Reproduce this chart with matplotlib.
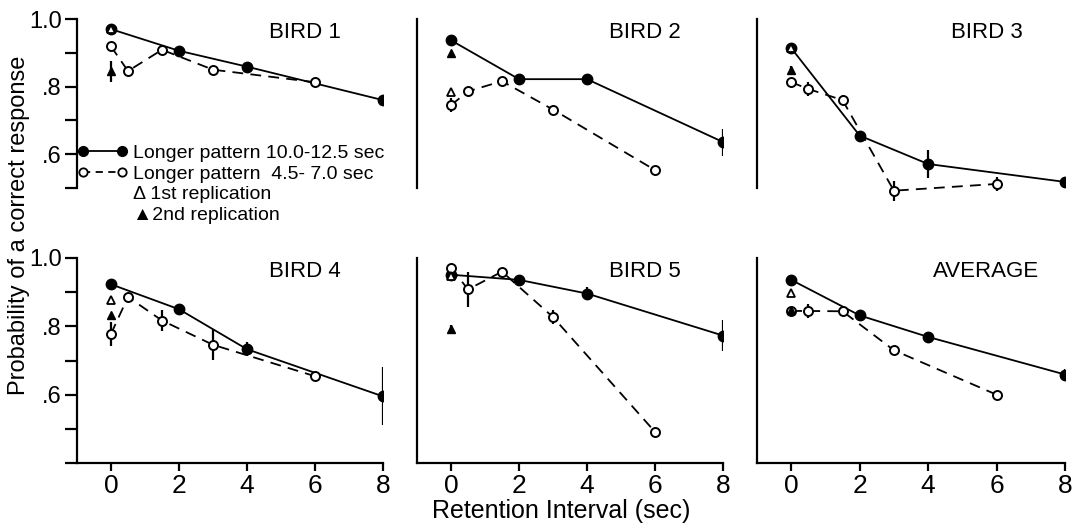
import matplotlib
matplotlib.use("Agg")
import matplotlib.pyplot as plt
from matplotlib.lines import Line2D

# ---------------- data ----------------
x_filled = [0, 2, 4, 8]
x_open = [0, 0.5, 1.5, 3, 6]
x_tri = 0

panel_titles = ["BIRD 1", "BIRD 2", "BIRD 3", "BIRD 4", "BIRD 5", "AVERAGE"]

filled_vals = [
    [0.970, 0.906, 0.859, 0.760],
    [0.937, 0.822, 0.822, 0.636],
    [0.914, 0.655, 0.571, 0.518],
    [0.923, 0.850, 0.733, 0.595],
    [0.951, 0.936, 0.896, 0.773],
    [0.936, 0.832, 0.769, 0.659],
]
filled_err = [
    [0.0, 0.008, 0.015, 0.012],
    [0.0, 0.015, 0.015, 0.040],
    [0.0, 0.008, 0.040, 0.010],
    [0.0, 0.015, 0.020, 0.085],
    [0.0, 0.0, 0.020, 0.045],
    [0.0, 0.0, 0.0, 0.015],
]
open_vals = [
    [0.919, 0.846, 0.909, 0.850, 0.813],
    [0.745, 0.786, 0.816, 0.732, 0.553],
    [0.813, 0.793, 0.760, 0.492, 0.512],
    [0.778, 0.886, 0.817, 0.746, 0.654],
    [0.972, 0.908, 0.960, 0.827, 0.491],
    [0.845, 0.845, 0.844, 0.730, 0.600],
]
open_err = [
    [0.0, 0.0, 0.0, 0.010, 0.0],
    [0.020, 0.010, 0.010, 0.0, 0.010],
    [0.010, 0.020, 0.015, 0.030, 0.020],
    [0.035, 0.0, 0.030, 0.045, 0.0],
    [0.0, 0.050, 0.0, 0.020, 0.010],
    [0.0, 0.020, 0.0, 0.0, 0.0],
]
rep1_vals = [0.970, 0.783, 0.914, 0.878, 0.948, 0.898]   # open triangle
rep2_vals = [0.845, 0.899, 0.850, 0.832, 0.793, 0.847]   # filled triangle
rep2_err = [0.030, 0.0, 0.010, 0.0, 0.010, 0.0]

x_ticks = [0, 2, 4, 6, 8]
x_ticklabels = ["0", "2", "4", "6", "8"]
y_ticks = [0.4, 0.5, 0.6, 0.7, 0.8, 0.9, 1.0]
y_ticklabel_map = {0.6: ".6", 0.8: ".8", 1.0: "1.0"}

legend_labels = ["Longer pattern 10.0-12.5 sec", "Longer pattern  4.5- 7.0 sec",
                 "\u0394 1st replication", "\u25B22nd replication"]

# ---------------- fonts ----------------
plt.rcParams["font.family"] = ["Liberation Sans", "DejaVu Sans"]

# ---------------- figure ----------------
W, H = 1086, 524
fig = plt.figure(figsize=(W / 100, H / 100), dpi=100)

def px_axes(left, top, right, bottom):
    return fig.add_axes([left / W, 1 - bottom / H, (right - left) / W, (bottom - top) / H])

col_left = [77, 417, 757]
col_right = [383, 723, 1065]
# top row: 1.0 at y=19, 0.5 at y=188  -> ylim 0.45..1.0
# bottom row: 1.0 at y=258, 0.4 at y=463
rows = [(19, 19 + (1.0 - 0.45) * 338, 0.45, 0.5), (258, 463, 0.40, 0.4)]

lw = 1.3
axes = []
for i in range(6):
    r, c = divmod(i, 3)
    top, bot, ymin, spine_lo = rows[r]
    ax = px_axes(col_left[c], top, col_right[c], bot)
    ax.set_xlim(-1, 8)
    ax.set_ylim(ymin, 1.0)
    for s in ["top", "right"]:
        ax.spines[s].set_visible(False)
    ax.spines["left"].set_linewidth(1.6)
    ax.spines["left"].set_bounds(spine_lo, 1.0)
    if r == 0:
        ax.spines["bottom"].set_visible(False)
        ax.set_xticks([])
    else:
        ax.spines["bottom"].set_linewidth(1.6)
        ax.set_xticks(x_ticks)
        ax.set_xticklabels(x_ticklabels, fontsize=19)
        ax.tick_params(axis="x", direction="out", length=6, width=1.6, pad=2)
    if c == 0:
        yt = [v for v in y_ticks if v >= spine_lo]
        ax.set_yticks(yt)
        ax.set_yticklabels([y_ticklabel_map.get(round(v, 1), "") for v in yt], fontsize=17)
        ax.tick_params(axis="y", direction="out", length=9, width=1.6, pad=2)
    else:
        ax.set_yticks([])
    ax.patch.set_alpha(0)

    # filled series (solid)
    ax.errorbar(x_filled, filled_vals[i], yerr=filled_err[i], fmt="-o", color="black",
                lw=lw, elinewidth=1.6, capsize=0, ms=7.5, mfc="black", mec="black", zorder=3)
    # open series (dashed)
    ax.errorbar(x_open, open_vals[i], yerr=open_err[i], fmt="--o", color="black",
                lw=lw, elinewidth=1.6, capsize=0, ms=6.5, mfc="white", mec="black",
                mew=1.4, dashes=(6, 4), zorder=4)
    # replications
    ax.plot([x_tri], [rep1_vals[i]], marker="^", ms=6, mfc="white", mec="black", mew=1.3,
            ls="none", zorder=5)
    ax.errorbar([x_tri], [rep2_vals[i]], yerr=[rep2_err[i]], fmt="^", ms=6, color="black",
                elinewidth=1.6, capsize=0, zorder=5)

    ax.text(0.745, 0.985, panel_titles[i], transform=ax.transAxes,
            ha="center", va="top", fontsize=16)
    axes.append(ax)

# legend in first panel
handles = [
    Line2D([], [], color="black", lw=lw, marker="o", ms=7, mfc="black"),
    Line2D([], [], color="black", lw=lw, ls=(0, (4, 3)), marker="o", ms=6, mfc="white", mew=1.3),
    Line2D([], [], color="none"),
    Line2D([], [], color="none"),
]
leg = axes[0].legend(handles, legend_labels, loc="upper left", bbox_to_anchor=(0.0, 0.325),
                     frameon=False, fontsize=14, numpoints=2, handlelength=2.6,
                     handletextpad=0.3, labelspacing=0.15, borderaxespad=0, borderpad=0)

fig.text(561 / W, 1 - 511 / H, "Retention Interval (sec)", ha="center", va="center", fontsize=18)
fig.text(19 / W, 1 - 225 / H, "Probability of a correct response", rotation=90,
         ha="center", va="center", fontsize=17)

fig.savefig("out.png", dpi=100)
